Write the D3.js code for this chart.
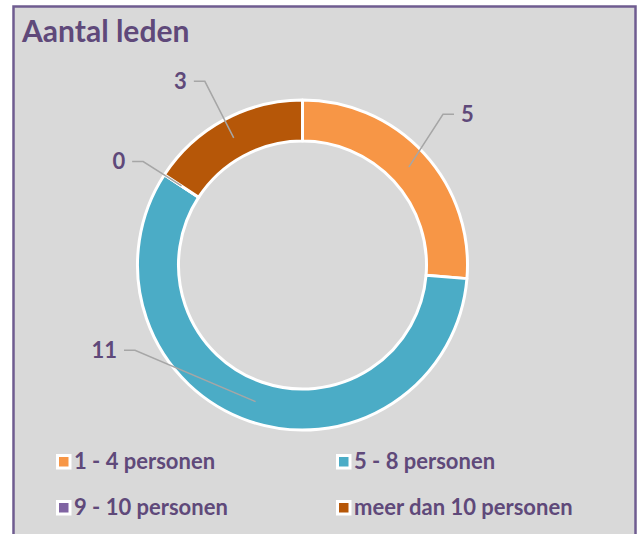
<!DOCTYPE html>
<html>
<head>
<meta charset="utf-8">
<script src="https://cdn.jsdelivr.net/npm/d3@7"></script>
<style>
  body { margin: 0; background: #ffffff; }
  svg text { font-family: Lato, "Open Sans", sans-serif; font-weight: bold; fill: #5f497a; }
</style>
</head>
<body>
<div class="diagram-canvas"></div>
<script>
const title = "Aantal leden";
const categories = ["1 - 4 personen", "5 - 8 personen", "9 - 10 personen", "meer dan 10 personen"];
const values = [5, 11, 0, 3];
const colors = ["#f79646", "#4bacc6", "#8064a2", "#b65708"];

// where Excel put the label elbows: [angle in degrees, radius]
const labelSpots = [[43, 206], [243, 188], [303, 190], [332, 208]];

function chartDonut() {
  let width = 639,
    height = 534,
    cx = 302.5,
    cy = 265,
    outer = 165,
    inner = 124;

  let svg = d3
    .select(".diagram-canvas")
    .append("svg")
    .attr("width", width)
    .attr("height", height);

  svg
    .append("rect")
    .attr("x", 13.5)
    .attr("y", 6.5)
    .attr("width", 622)
    .attr("height", 540)
    .attr("fill", "#d9d9d9")
    .attr("stroke", "#6f5c90")
    .attr("stroke-width", 2.5);

  svg
    .append("text")
    .attr("x", 22)
    .attr("y", 42)
    .attr("font-size", 30)
    .text(title);

  let pie = d3.pie().sort(null).value((d) => d);
  let arcs = pie(values);

  let arc = d3.arc().innerRadius(inner).outerRadius(outer);
  let mid = d3.arc().innerRadius((inner + outer) / 2).outerRadius((inner + outer) / 2);

  let g = svg.append("g").attr("transform", "translate(" + cx + "," + cy + ")");

  g.selectAll("path.slice")
    .data(arcs)
    .enter()
    .append("path")
    .attr("class", "slice")
    .attr("d", arc)
    .attr("fill", (d, i) => colors[i])
    .attr("stroke", "#ffffff")
    .attr("stroke-width", 3)
    .attr("stroke-linejoin", "round");

  // leader lines + value labels
  arcs.forEach((d, i) => {
    let start = mid.centroid(d);
    let a = (labelSpots[i][0] * Math.PI) / 180,
      r = labelSpots[i][1];
    let elbow = [r * Math.sin(a), -r * Math.cos(a)];
    let right = elbow[0] > 0;
    let end = [elbow[0] + (right ? 11 : -11), elbow[1]];

    g.append("polyline")
      .attr("points", [start, elbow, end].map((p) => p.join(",")).join(" "))
      .attr("fill", "none")
      .attr("stroke", "#a6a6a6")
      .attr("stroke-width", 1.5);

    g.append("text")
      .attr("x", end[0] + (right ? 7 : -7))
      .attr("y", end[1])
      .attr("dy", "0.36em")
      .attr("text-anchor", right ? "start" : "end")
      .attr("font-size", 22)
      .text(d.data);
  });

  // legend
  let legend = svg
    .selectAll("g.legend")
    .data(categories)
    .enter()
    .append("g")
    .attr("class", "legend")
    .attr("transform", (d, i) => "translate(" + (56 + (i % 2) * 280) + "," + (454 + Math.floor(i / 2) * 46) + ")");

  legend
    .append("rect")
    .attr("x", 1.5)
    .attr("y", 1.5)
    .attr("width", 12.5)
    .attr("height", 12.5)
    .attr("fill", (d, i) => colors[i])
    .attr("stroke", "#ffffff")
    .attr("stroke-width", 3);

  legend
    .append("text")
    .attr("x", 18)
    .attr("y", 15)
    .attr("font-size", 22)
    .text((d) => d);
}

chartDonut();
</script>
</body>
</html>
